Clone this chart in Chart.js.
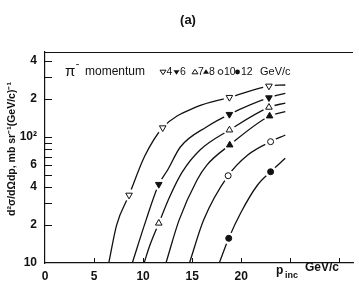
<!DOCTYPE html>
<html>
<head>
<meta charset="utf-8">
<script src="https://cdn.jsdelivr.net/npm/chart.js@4/dist/chart.umd.min.js"></script>
<style>
  html, body { margin: 0; padding: 0; background: #fff; }
  #chart { display: block; }
</style>
</head>
<body>
<canvas id="chart" width="359" height="282"></canvas>
<script>
// beam momenta (GeV/c)
const momenta = [4, 6, 7, 8, 10, 12];

// measured points: p_inc (GeV/c) and d2sigma/dOmega dp
const p4 = [8.57, 12.0, 18.8, 22.83];
const s4 = [34.6, 118.5, 206.5, 254];
const p6 = [11.6, 18.8, 22.83];
const s6 = [42.1, 151.4, 205.1];
const p7 = [11.6, 18.8, 22.83];
const s7 = [20.7, 113.6, 172.1];
const p8 = [18.83, 22.9];
const s8 = [86.4, 146.8];
const p10 = [18.67, 23.0];
const s10 = [49.3, 91.8];
const p12 = [18.73, 23.0];
const s12 = [15.7, 53.0];

// drawn curves
const c4p = [6.5, 7.3, 8.57, 10.17, 12.0, 15.5, 18.8, 22.83, 24.5];
const c4s = [10, 20.0, 34.6, 70.6, 118.5, 174, 206.5, 254, 258.7];
const c6p = [8.9, 10.3, 11.6, 12.5, 13.8, 16.5, 18.8, 22.83, 24.5];
const c6s = [10, 21.9, 42.1, 54.7, 83.3, 120.7, 151.4, 205.1, 222.2];
const c7p = [10.1, 10.7, 11.6, 12.7, 14.0, 15.8, 18.8, 22.83, 24.5];
const c7s = [10, 13.9, 20.7, 33.4, 52.8, 78.8, 113.6, 172.1, 186.2];
const c8p = [12.33, 13.67, 15.5, 16.5, 18.83, 22.9, 24.5];
const c8s = [10, 21.9, 45.6, 59.9, 86.4, 146.8, 158.8];
const c10p = [14.73, 16.17, 18.67, 20.67, 23.0, 24.5];
const c10s = [10, 21.9, 49.3, 72.0, 91.8, 103.7];
const c12p = [17.77, 18.73, 20.0, 21.67, 23.0, 24.5];
const c12s = [10, 15.7, 25.4, 41.6, 53.0, 67.8];

// axes
const xTicks = [0, 5, 10, 15, 20, 25, 30];
const xTickLabels = ['0', '5', '10', '15', '20', '', ''];
const yTicks = [10, 20, 30, 40, 50, 60, 70, 80, 90, 100, 200, 300, 400];
const yTickLabels = ['10', '2', '', '4', '', '6', '', '', '', '10²', '2', '', '4'];

const ink = '#111';
const fontFam = '"Liberation Sans", Arial, sans-serif';

const toXY = (xs, ys) => xs.map((x, i) => ({ x: x, y: ys[i] }));

// marker styles: [pointStyle, rotation, filled]
const markStyle = {
  4: ['triangle', 180, false],
  6: ['triangle', 180, true],
  7: ['triangle', 0, false],
  8: ['triangle', 0, true],
  10: ['circle', 0, false],
  12: ['circle', 0, true]
};

const curves = [[c4p, c4s], [c6p, c6s], [c7p, c7s], [c8p, c8s], [c10p, c10s], [c12p, c12s]];
const points = [[p4, s4], [p6, s6], [p7, s7], [p8, s8], [p10, s10], [p12, s12]];

const datasets = [];
momenta.forEach((m, i) => {
  const st = markStyle[m];
  datasets.push({
    label: m + ' GeV/c',
    data: toXY(points[i][0], points[i][1]),
    showLine: false,
    pointStyle: st[0],
    rotation: st[1],
    pointRadius: st[0] === 'circle' ? 3 : 3.8,
    pointBackgroundColor: st[2] ? ink : '#fff',
    pointBorderColor: ink,
    pointBorderWidth: 1,
    order: 0
  });
  // white halo so the curve breaks around each marker
  datasets.push({
    data: toXY(points[i][0], points[i][1]),
    showLine: false,
    pointStyle: 'circle',
    pointRadius: 6,
    pointBackgroundColor: '#fff',
    pointBorderWidth: 0,
    order: 1
  });
  datasets.push({
    data: toXY(curves[i][0], curves[i][1]),
    showLine: true,
    borderColor: ink,
    borderWidth: 1.3,
    pointRadius: 0,
    cubicInterpolationMode: 'monotone',
    order: 2
  });
});

function tri(ctx, x, y, r, down, filled) {
  ctx.beginPath();
  if (down) {
    ctx.moveTo(x - r, y - r * 0.6);
    ctx.lineTo(x + r, y - r * 0.6);
    ctx.lineTo(x, y + r * 0.9);
  } else {
    ctx.moveTo(x - r, y + r * 0.6);
    ctx.lineTo(x + r, y + r * 0.6);
    ctx.lineTo(x, y - r * 0.9);
  }
  ctx.closePath();
  if (filled) ctx.fill(); else ctx.stroke();
}

function dot(ctx, x, y, r, filled) {
  ctx.beginPath();
  ctx.arc(x, y, r, 0, Math.PI * 2);
  if (filled) ctx.fill(); else ctx.stroke();
}

const decor = {
  id: 'decor',
  afterDraw(chart) {
    const ctx = chart.ctx;
    const a = chart.chartArea;
    const xs = chart.scales.x, ys = chart.scales.y;
    ctx.save();
    ctx.strokeStyle = ink;
    ctx.fillStyle = ink;
    ctx.lineWidth = 1.2;

    // top frame line
    ctx.beginPath();
    ctx.moveTo(a.left, a.top + 0.5);
    ctx.lineTo(a.right, a.top + 0.5);
    ctx.stroke();

    // inward ticks
    ctx.lineWidth = 1;
    yTicks.forEach(v => {
      if (v === 10) return;
      const py = Math.round(ys.getPixelForValue(v)) + 0.5;
      ctx.beginPath();
      ctx.moveTo(a.left, py);
      ctx.lineTo(a.left + 7, py);
      ctx.stroke();
    });
    xTicks.forEach(v => {
      if (v === 0) return;
      const px = Math.round(xs.getPixelForValue(v)) + 0.5;
      ctx.beginPath();
      ctx.moveTo(px, a.bottom);
      ctx.lineTo(px, a.bottom - 5);
      ctx.stroke();
    });

    // title
    ctx.textBaseline = 'middle';
    ctx.textAlign = 'center';
    ctx.font = 'bold 13px ' + fontFam;
    ctx.fillText('(a)', 188, 20);

    // y axis title
    ctx.save();
    ctx.translate(12, 149);
    ctx.rotate(-Math.PI / 2);
    ctx.font = 'bold 10.5px ' + fontFam;
    ctx.fillText('d²σ/dΩdp, mb sr⁻¹(GeV/c)⁻¹', 0, 0);
    ctx.restore();

    // x axis title
    ctx.textAlign = 'left';
    ctx.font = 'bold 12px ' + fontFam;
    ctx.fillText('p', 276, 271);
    ctx.font = 'bold 9px ' + fontFam;
    ctx.fillText('inc', 285, 276);
    ctx.font = 'bold 12px ' + fontFam;
    ctx.fillText('GeV/c', 305, 268);

    // legend line
    const ly = 72;
    ctx.font = '15px ' + fontFam;
    ctx.fillText('π', 65, ly);
    ctx.font = 'bold 9px ' + fontFam;
    ctx.fillText('⁻', 76, ly - 4);
    ctx.font = '12px ' + fontFam;
    ctx.fillText('momentum', 85, ly);
    ctx.lineWidth = 1;
    ctx.font = '10.5px ' + fontFam;
    const items = [
      [4, 163, 166.5], [6, 176.5, 180], [7, 195, 198], [8, 206, 209], [10, 220.5, 224], [12, 237.5, 241]
    ];
    items.forEach(([m, mx, tx]) => {
      const st = markStyle[m];
      if (st[0] === 'triangle') tri(ctx, mx, ly, 3.0, st[1] === 180, st[2]);
      else dot(ctx, mx, ly, 2.4, st[2]);
      ctx.fillText(String(m), tx, ly);
    });
    ctx.font = '11px ' + fontFam;
    ctx.fillText('GeV/c', 260, ly);
    ctx.restore();
  }
};

new Chart(document.getElementById('chart'), {
  type: 'scatter',
  data: { datasets: datasets },
  options: {
    responsive: false,
    animation: false,
    layout: { padding: { top: 52, left: 0, right: 0, bottom: 0 } },
    plugins: { legend: { display: false }, tooltip: { enabled: false } },
    scales: {
      x: {
        type: 'linear',
        min: 0,
        max: 31.4,
        afterBuildTicks: s => { s.ticks = xTicks.map(v => ({ value: v })); },
        afterFit: s => { s.height = 19; },
        grid: { drawOnChartArea: false, drawTicks: false },
        border: { color: ink, width: 1.2 },
        ticks: {
          padding: 6,
          color: ink,
          maxRotation: 0,
          autoSkip: false,
          font: { family: fontFam, size: 12, weight: 'bold' },
          callback: (v) => xTickLabels[xTicks.indexOf(v)] || ''
        }
      },
      y: {
        type: 'logarithmic',
        min: 10,
        max: 473,
        afterBuildTicks: s => { s.ticks = yTicks.map(v => ({ value: v })); },
        afterFit: s => { s.width = 45; },
        grid: { drawOnChartArea: false, drawTicks: false },
        border: { color: ink, width: 1.2 },
        ticks: {
          padding: 8,
          color: ink,
          autoSkip: false,
          font: { family: fontFam, size: 12, weight: 'bold' },
          callback: (v) => yTickLabels[yTicks.indexOf(v)] || ''
        }
      }
    }
  },
  plugins: [decor]
});
</script>
</body>
</html>
